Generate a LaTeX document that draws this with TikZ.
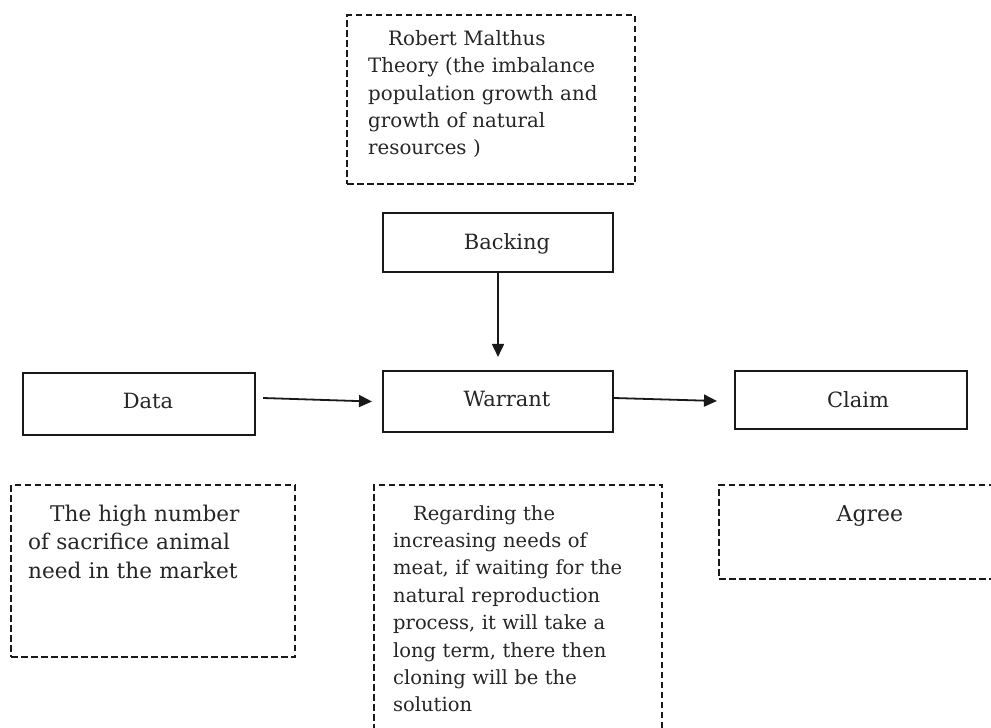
\documentclass[tikz,border=0pt]{standalone}
\usepackage{fontspec}
\setmainfont{DejaVu Serif}
\usetikzlibrary{arrows.meta}
\begin{document}
\begin{tikzpicture}[x=1pt,y=-1pt,
  box/.style={draw=black!90, line width=2.1pt, inner sep=0pt},
  dbox/.style={draw=black!90, line width=1.8pt, dash pattern=on 6.5pt off 3.5pt, inner sep=0pt},
  lbl/.style={anchor=base, inner sep=0pt, text=black!85, font=\fontsize{21}{24}\selectfont},
  blk/.style={anchor=base west, inner sep=0pt, text=black!85, text width=300pt, align=left},
  arr/.style={line width=1.8pt, draw=black!90, -{Triangle[length=13pt,width=12pt]}}
]
\useasboundingbox (0,0) rectangle (991,728);
\fill[white] (0,0) rectangle (991,728);
\clip (0,0) rectangle (991,728);

% dashed boxes
\node[dbox, minimum width=288pt, minimum height=169pt] (topbox) at (491,99.5) {};
\node[dbox, minimum width=284pt, minimum height=172pt] (databox) at (153,571) {};
\node[dbox, minimum width=288pt, minimum height=275pt] (warrbox) at (518,622.5) {};
\node[dbox, minimum width=291pt, minimum height=94pt] (claimbox) at (864.5,532) {};

% solid boxes
\node[box, minimum width=230pt, minimum height=59pt] (backing) at (498,242.5) {};
\node[box, minimum width=230pt, minimum height=61pt] (warrant) at (498,401.5) {};
\node[box, minimum width=232pt, minimum height=62pt] (data) at (139,404) {};
\node[box, minimum width=232pt, minimum height=58pt] (claim) at (851,400) {};

% labels
\node[lbl] (lbacking) at (507,249) {Backing};
\node[lbl] (lwarrant) at (507,406) {Warrant};
\node[lbl] (ldata) at (148,408) {Data};
\node[lbl] (lclaim) at (858,407) {Claim};

% arrows
\draw[arr] (backing.south) -- ([yshift=13pt]warrant.north);
\draw[arr] ([xshift=7pt,yshift=6pt]data.east) -- ([xshift=-10pt]warrant.west);
\draw[arr] ([yshift=3.5pt]warrant.east) -- ([xshift=-17pt,yshift=-1pt]claim.west);

% texts
\node[blk, font=\fontsize{19.8}{27.5}\selectfont] (ttop) at (368,45)
  {\hspace*{20pt}Robert Malthus\\Theory (the imbalance\\population growth and\\growth of natural\\resources )};
\node[blk, font=\fontsize{21.6}{28.5}\selectfont] (tdata) at (28,521)
  {\hspace*{22pt}The high number\\of sacrifice animal\\need in the market};
\node[blk, font=\fontsize{19.5}{27.4}\selectfont] (twarr) at (393,520)
  {\hspace*{20pt}Regarding the\\increasing needs of\\meat, if waiting for the\\natural reproduction\\process, it will take a\\long term, there then\\cloning will be the\\solution};
\node[lbl, font=\fontsize{22}{24}\selectfont] (tagree) at (870,521) {Agree};
\end{tikzpicture}
\end{document}
